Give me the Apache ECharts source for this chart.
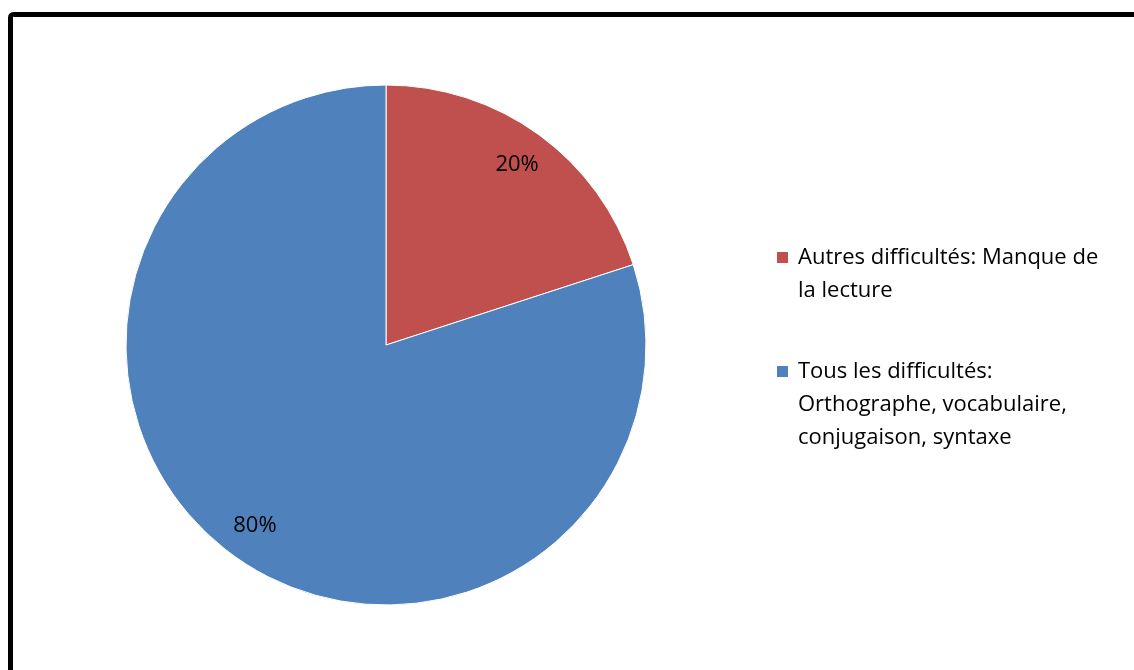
<!DOCTYPE html>
<html>
<head>
<meta charset="utf-8">
<script src="https://cdn.jsdelivr.net/npm/echarts@6/dist/echarts.min.js"></script>
<style>
  html, body { margin: 0; padding: 0; background: #fff; }
  #chart { width: 1134px; height: 670px; }
</style>
</head>
<body>
<div id="chart"></div>
<script>
// données du graphique
const categories = [
    'Autres difficultés: Manque de\nla lecture',
    'Tous les difficultés:\nOrthographe, vocabulaire,\nconjugaison, syntaxe'
]
const values = [20, 80]
const colors = ['#C0504D', '#4F81BD']

const font = '"Open Sans", "Liberation Sans", sans-serif'
const center = [386, 345]
const radius = 260
const lineH = 33

let myChart = echarts.init(document.getElementById('chart'))

// carré aligné sur la première ligne du texte de légende
const legendIcon = function (lines) {
    const h = lines * lineH
    return 'path://M0,0h0.01v0.01h-0.01z M0,10h13v13h-13z M0,' + (h - 0.01) + 'h0.01v0.01h-0.01z'
}

const legendFor = function (i, top) {
    const lines = categories[i].split('\n').length
    return {
        orient: 'vertical',
        left: 775,
        top: top,
        padding: 0,
        itemWidth: 13,
        itemHeight: lines * lineH,
        icon: legendIcon(lines),
        textStyle: { fontFamily: font, fontSize: 22, lineHeight: lineH, color: '#000', padding: [0, 0, 0, 4] },
        data: [categories[i]]
    }
}

const pieData = categories.map((name, i) => ({
    name: name,
    value: values[i],
    itemStyle: { color: colors[i] }
}))

myChart.setOption({
    animation: false,
    graphic: [{
        type: 'rect',
        shape: { x: 10.5, y: 14.5, width: 1300, height: 800, r: 3 },
        style: { fill: 'none', stroke: '#000', lineWidth: 5 },
        silent: true
    }],
    legend: [legendFor(0, 240), legendFor(1, 354)],
    series: [
        {
            type: 'pie',
            center: center,
            radius: radius,
            startAngle: 90,
            clockwise: true,
            silent: true,
            label: { show: false },
            labelLine: { show: false },
            itemStyle: { borderColor: '#fff', borderWidth: 1 },
            data: pieData
        },
        {
            // anneau invisible pour placer les pourcentages
            type: 'pie',
            center: center,
            radius: [180, radius],
            startAngle: 90,
            clockwise: true,
            silent: true,
            itemStyle: { color: 'rgba(0,0,0,0)', borderWidth: 0 },
            label: {
                show: true,
                position: 'inside',
                formatter: '{c}%',
                fontFamily: font,
                fontSize: 22,
                color: '#000'
            },
            labelLine: { show: false },
            data: categories.map((name, i) => ({ name: name, value: values[i] }))
        }
    ]
})
</script>
</body>
</html>
